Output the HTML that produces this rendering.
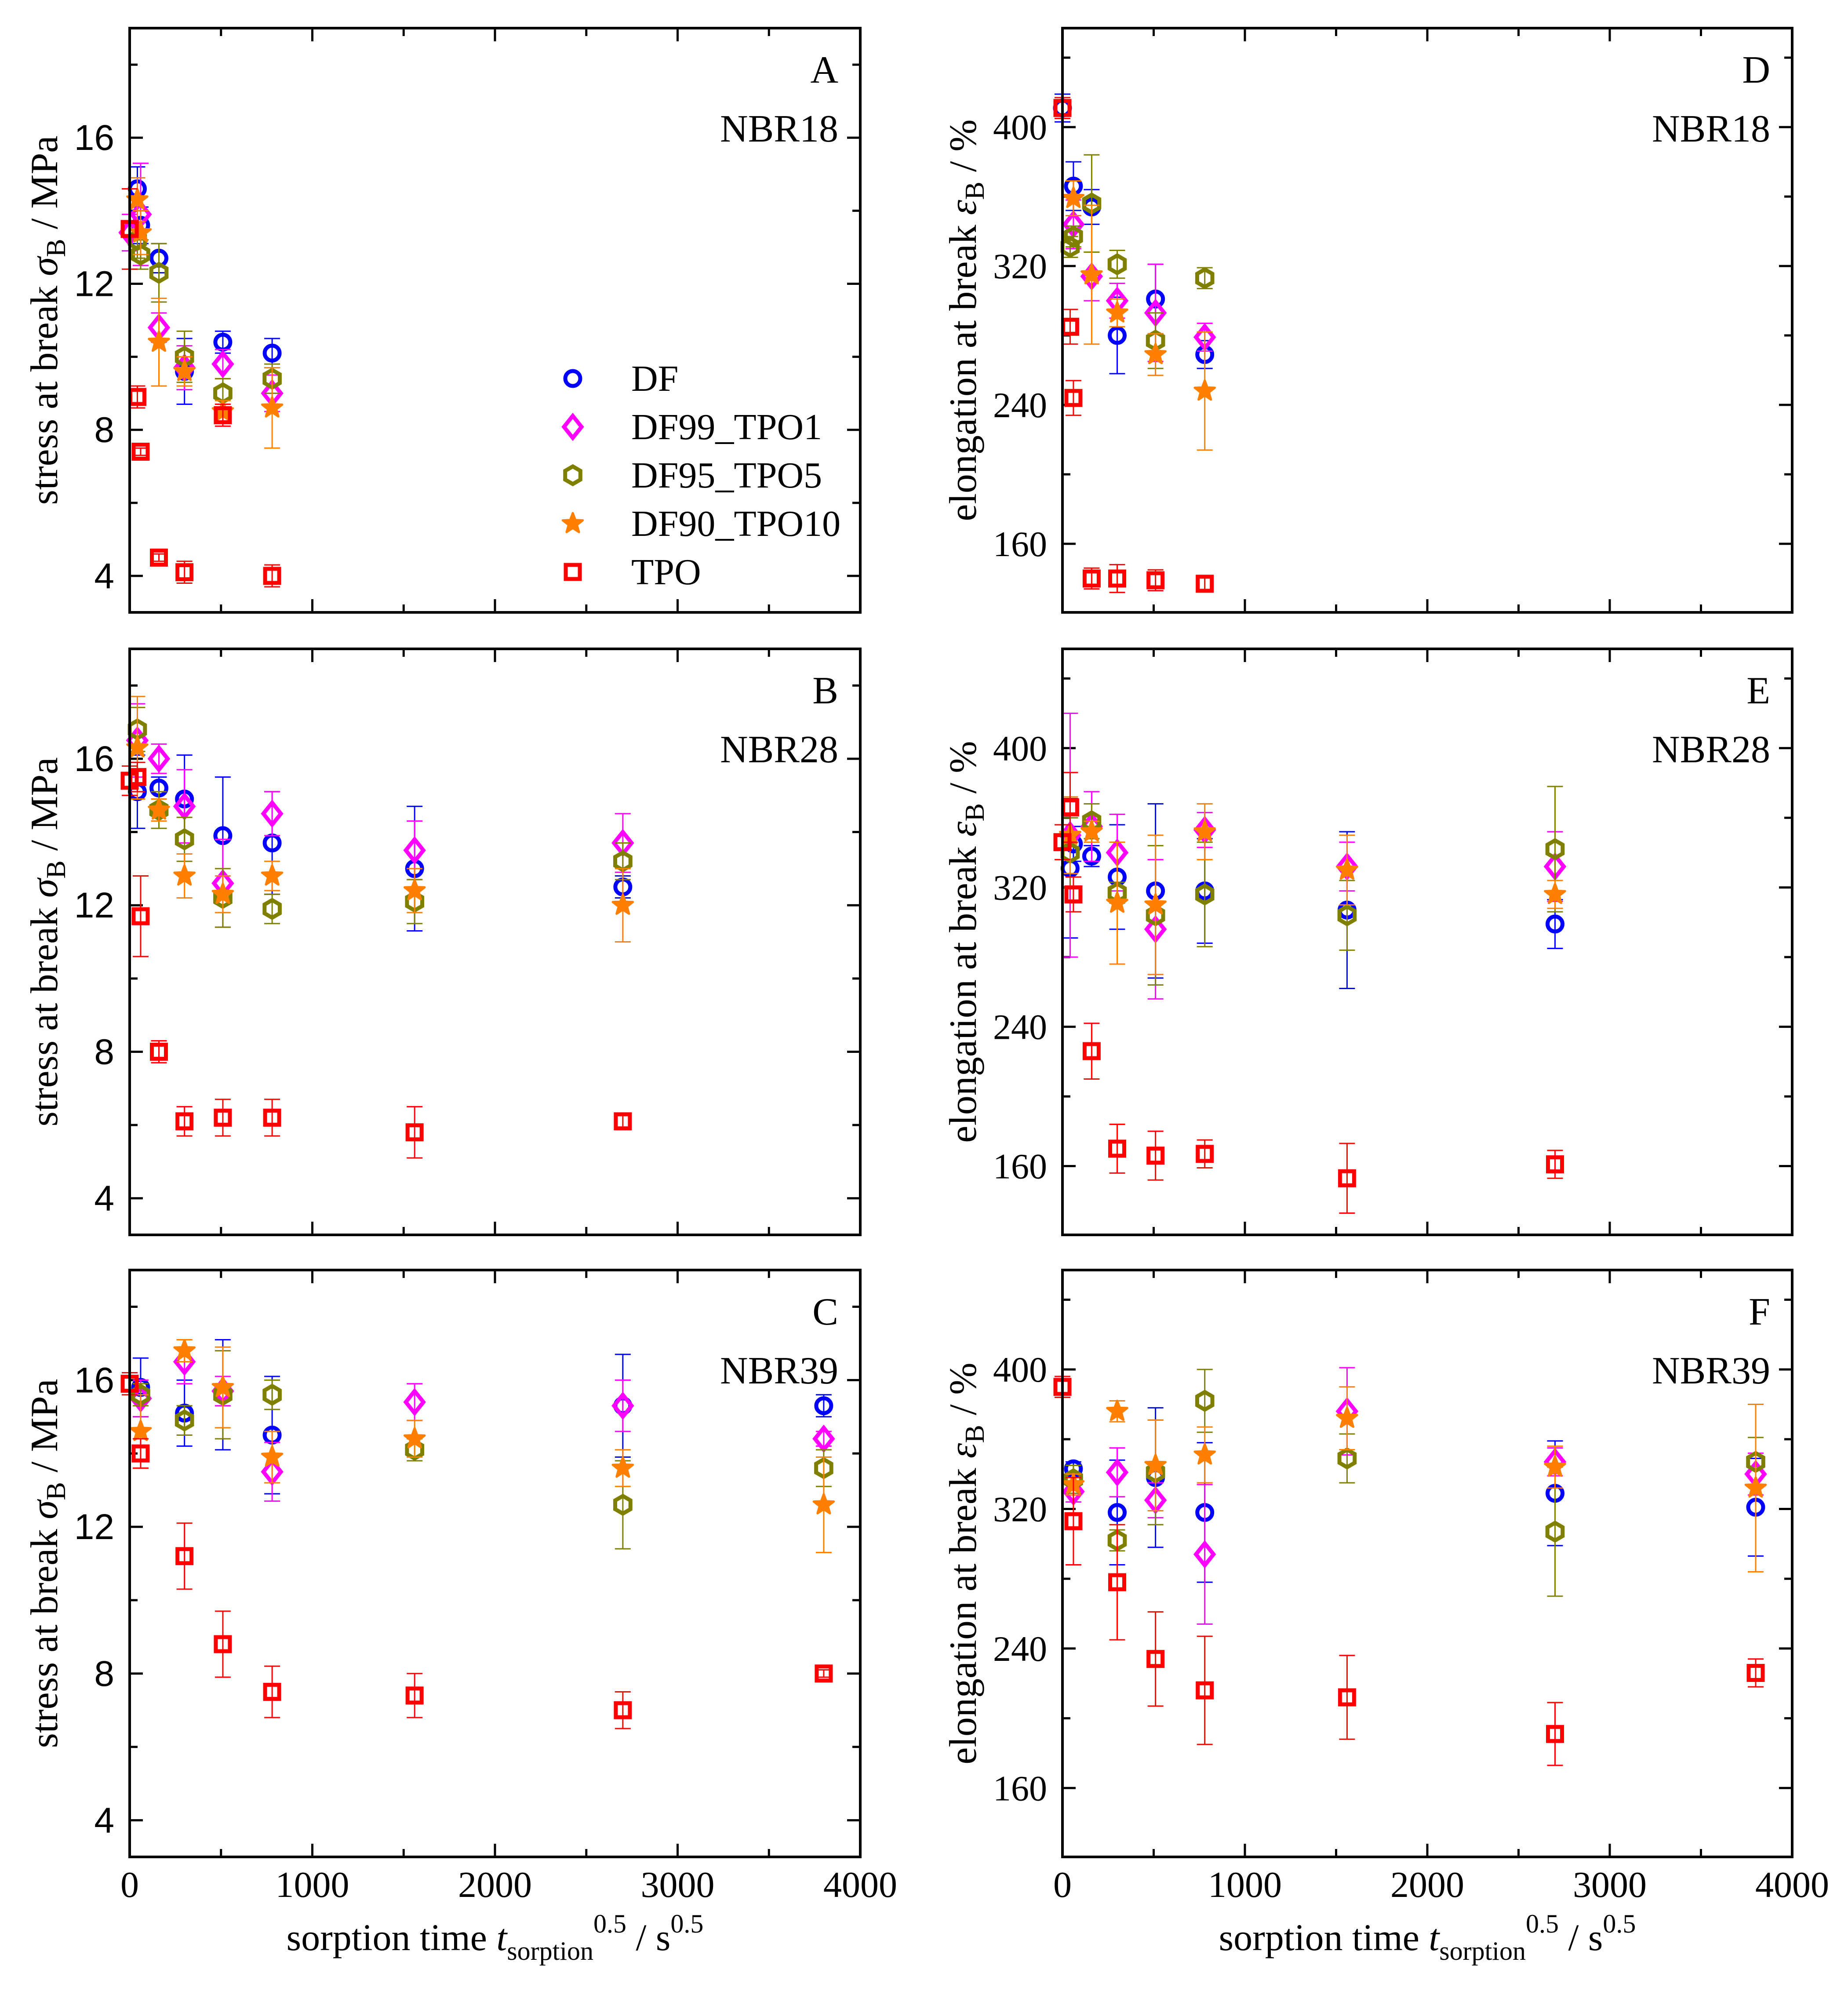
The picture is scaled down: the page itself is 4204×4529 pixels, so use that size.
<!DOCTYPE html>
<html><head><meta charset="utf-8"><style>
html,body{margin:0;padding:0;background:#fff;}
svg{display:block;}
</style></head><body>
<svg id="chart" xmlns="http://www.w3.org/2000/svg" width="4204" height="4529" viewBox="0 0 4204 4529"></svg>
<script>
// ---------- data ----------
const xTicks = [0, 1000, 2000, 3000, 4000];
const stressTicks = [4, 8, 12, 16];
const elongTicks = [160, 240, 320, 400];
const seriesNames = ["DF", "DF99_TPO1", "DF95_TPO5", "DF90_TPO10", "TPO"];

// Panel A (NBR18 stress)
const A_DF_x=[42,60,160,300,510,780];       const A_DF_y=[14.6,13.6,12.7,9.6,10.4,10.1];   const A_DF_e=[0.6,0.5,0.4,0.9,0.3,0.4];
const A_P1_x=[0,60,160,300,510,780];        const A_P1_y=[13.4,13.9,10.8,9.7,9.8,9.0];     const A_P1_e=[0.5,1.4,0.4,0.6,0.4,0.5];
const A_P5_x=[42,60,160,300,510,780];       const A_P5_y=[13.2,12.8,12.3,10.0,9.0,9.4];    const A_P5_e=[0.5,0.4,0.8,0.7,0.4,0.4];
const A_P10_x=[42,60,160,300,510,780];      const A_P10_y=[14.3,13.4,10.4,9.6,8.5,8.6];    const A_P10_e=[0.6,0.6,1.2,0.4,0.3,1.1];
const A_TPO_x=[0,42,60,160,300,510,780];    const A_TPO_y=[13.5,8.9,7.4,4.5,4.1,8.4,4.0];  const A_TPO_e=[1.1,0.3,0.1,0.1,0.3,0.3,0.3];
// Panel B (NBR28 stress)
const B_DF_x=[42,160,300,510,780,1560,2700];     const B_DF_y=[15.1,15.2,14.9,13.9,13.7,13.0,12.5]; const B_DF_e=[1.0,0.3,1.2,1.6,1.4,1.7,0.3];
const B_P1_x=[42,160,300,510,780,1560,2700];     const B_P1_y=[16.5,16.0,14.7,12.6,14.5,13.5,13.7]; const B_P1_e=[1.0,0.4,1.0,1.2,0.6,0.8,0.8];
const B_P5_x=[42,160,300,510,780,1560,2700];     const B_P5_y=[16.8,14.6,13.8,12.2,11.9,12.1,13.2]; const B_P5_e=[0.6,0.5,0.6,0.8,0.4,0.6,0.5];
const B_P10_x=[42,160,300,510,780,1560,2700];    const B_P10_y=[16.3,14.6,12.8,12.3,12.8,12.4,12.0]; const B_P10_e=[1.4,0.3,0.6,0.5,0.4,0.6,1.0];
const B_TPO_x=[0,42,60,160,300,510,780,1560,2700]; const B_TPO_y=[15.4,15.5,11.7,8.0,6.1,6.2,6.2,5.8,6.1]; const B_TPO_e=[0.4,0.4,1.1,0.3,0.4,0.5,0.5,0.7,0.2];
// Panel C (NBR39 stress)
const C_DF_x=[60,300,510,780,2700,3800];          const C_DF_y=[15.8,15.1,15.6,14.5,15.3,15.3];       const C_DF_e=[0.8,0.9,1.5,1.6,1.4,0.3];
const C_P1_x=[60,300,510,780,1560,2700,3800];     const C_P1_y=[15.5,16.5,15.7,13.5,15.4,15.3,14.4];  const C_P1_e=[0.5,0.6,0.4,0.8,0.5,0.7,0.2];
const C_P5_x=[60,300,510,780,1560,2700,3800];     const C_P5_y=[15.6,14.9,15.6,15.6,14.1,12.6,13.6];  const C_P5_e=[0.3,0.4,1.2,0.4,0.3,1.2,0.5];
const C_P10_x=[60,300,510,780,1560,2700,3800];    const C_P10_y=[14.6,16.8,15.8,13.9,14.4,13.6,12.6]; const C_P10_e=[1.0,0.3,1.1,0.7,0.5,0.5,1.3];
const C_TPO_x=[0,60,300,510,780,1560,2700,3800];  const C_TPO_y=[15.9,14.0,11.2,8.8,7.5,7.4,7.0,8.0];   const C_TPO_e=[0.3,0.4,0.9,0.9,0.7,0.6,0.5,0.1];
// Panel D (NBR18 elongation)
const D_DF_x=[0,60,160,300,510,780];          const D_DF_y=[411,366,354,280,301,269];     const D_DF_e=[8,14,10,22,20,8];
const D_P1_x=[60,160,300,510,780];            const D_P1_y=[344,314,300,293,279];         const D_P1_e=[14,14,10,28,8];
const D_P5_x=[42,60,160,300,510,780];         const D_P5_y=[331,337,356,321,277,313];     const D_P5_e=[6,6,28,8,16,6];
const D_P10_x=[60,160,300,510,780];           const D_P10_y=[359,315,293,269,248];        const D_P10_e=[10,40,8,12,34];
const D_TPO_x=[0,42,60,160,300,510,780];      const D_TPO_y=[411,285,244,140,140,139,137]; const D_TPO_e=[6,10,10,6,8,6,4];
// Panel E (NBR28 elongation)
const E_DF_x=[42,60,160,300,510,780,1560,2700];   const E_DF_y=[331,345,338,326,318,318,307,299]; const E_DF_e=[40,10,6,30,50,30,45,14];
const E_P1_x=[42,160,300,510,780,1560,2700];      const E_P1_y=[350,355,340,296,353,332,332];     const E_P1_e=[70,20,22,40,10,14,20];
const E_P5_x=[42,160,300,510,780,1560,2700];      const E_P5_y=[340,358,317,304,316,304,342];     const E_P5_e=[20,10,6,40,30,20,36];
const E_P10_x=[42,160,300,510,780,1560,2700];     const E_P10_y=[350,352,311,310,352,330,316];    const E_P10_e=[22,6,35,40,16,20,8];
const E_TPO_x=[0,42,60,160,300,510,780,1560,2700]; const E_TPO_y=[346,366,316,226,170,166,167,153,161]; const E_TPO_e=[10,20,10,16,14,14,8,20,8];
// Panel F (NBR39 elongation)
const F_DF_x=[60,300,510,780,2700,3800];          const F_DF_y=[343,318,338,318,329,321];          const F_DF_e=[4,30,40,40,30,28];
const F_P1_x=[60,300,510,780,1560,2700,3800];     const F_P1_y=[330,341,325,294,376,347,340];      const F_P1_e=[6,14,10,40,25,8,12];
const F_P5_x=[60,300,510,780,1560,2700,3800];     const F_P5_y=[337,302,341,382,349,307,347];      const F_P5_e=[8,6,30,18,14,37,14];
const F_P10_x=[60,300,510,780,1560,2700,3800];    const F_P10_y=[334,376,345,351,372,344,332];     const F_P10_e=[6,6,26,16,18,12,48];
const F_TPO_x=[0,60,300,510,780,1560,2700,3800];  const F_TPO_y=[390,313,278,234,216,212,191,226];  const F_TPO_e=[6,25,33,27,31,24,18,8];

// ---------- layout ----------
const NS = "http://www.w3.org/2000/svg";
const svg = document.getElementById('chart');
const colors = ["#0000ff", "#ff00ff", "#808000", "#ff8000", "#ff0000"];
const markerKeys = ["circle", "diamond", "hexagon", "star", "square"];
const rows = [[64,1393],[1476,2809],[2889,4224]];
const cols = [[295,1957],[2417,4077]];

function el(tag, attrs, parent) {
  const e = document.createElementNS(NS, tag);
  for (const k in attrs) e.setAttribute(k, attrs[k]);
  (parent || svg).appendChild(e);
  return e;
}

function marker(g, kind, cx, cy, color) {
  let m;
  if (kind === "circle") m = el('circle', {cx, cy, r: 17, fill: 'none', stroke: color, 'stroke-width': 9}, g);
  else if (kind === "diamond") m = el('polygon', {points: `${cx},${cy-25} ${cx+20},${cy} ${cx},${cy+25} ${cx-20},${cy}`, fill: 'none', stroke: color, 'stroke-width': 9}, g);
  else if (kind === "hexagon") {
    let p = [];
    for (let i = 0; i < 6; i++) { const a = Math.PI/2 + i*Math.PI/3; p.push((cx + 20*Math.cos(a)).toFixed(1) + ',' + (cy - 20*Math.sin(a)).toFixed(1)); }
    m = el('polygon', {points: p.join(' '), fill: 'none', stroke: color, 'stroke-width': 9}, g);
  } else if (kind === "star") {
    let p = [];
    for (let i = 0; i < 10; i++) { const a = Math.PI/2 + i*Math.PI/5; const r = i % 2 ? 10 : 24; p.push((cx + r*Math.cos(a)).toFixed(1) + ',' + (cy - r*Math.sin(a)).toFixed(1)); }
    m = el('polygon', {points: p.join(' '), fill: color, stroke: color, 'stroke-width': 5, 'stroke-linejoin': 'round'}, g);
  } else m = el('rect', {x: cx-16, y: cy-16, width: 32, height: 32, fill: 'none', stroke: color, 'stroke-width': 9}, g);
  return m;
}

const panels = [
  {id:'A', col:0, row:0, kind:'stress', name:'NBR18', data:[[A_DF_x,A_DF_y,A_DF_e],[A_P1_x,A_P1_y,A_P1_e],[A_P5_x,A_P5_y,A_P5_e],[A_P10_x,A_P10_y,A_P10_e],[A_TPO_x,A_TPO_y,A_TPO_e]]},
  {id:'B', col:0, row:1, kind:'stress', name:'NBR28', data:[[B_DF_x,B_DF_y,B_DF_e],[B_P1_x,B_P1_y,B_P1_e],[B_P5_x,B_P5_y,B_P5_e],[B_P10_x,B_P10_y,B_P10_e],[B_TPO_x,B_TPO_y,B_TPO_e]]},
  {id:'C', col:0, row:2, kind:'stress', name:'NBR39', data:[[C_DF_x,C_DF_y,C_DF_e],[C_P1_x,C_P1_y,C_P1_e],[C_P5_x,C_P5_y,C_P5_e],[C_P10_x,C_P10_y,C_P10_e],[C_TPO_x,C_TPO_y,C_TPO_e]]},
  {id:'D', col:1, row:0, kind:'elong', name:'NBR18', data:[[D_DF_x,D_DF_y,D_DF_e],[D_P1_x,D_P1_y,D_P1_e],[D_P5_x,D_P5_y,D_P5_e],[D_P10_x,D_P10_y,D_P10_e],[D_TPO_x,D_TPO_y,D_TPO_e]]},
  {id:'E', col:1, row:1, kind:'elong', name:'NBR28', data:[[E_DF_x,E_DF_y,E_DF_e],[E_P1_x,E_P1_y,E_P1_e],[E_P5_x,E_P5_y,E_P5_e],[E_P10_x,E_P10_y,E_P10_e],[E_TPO_x,E_TPO_y,E_TPO_e]]},
  {id:'F', col:1, row:2, kind:'elong', name:'NBR39', data:[[F_DF_x,F_DF_y,F_DF_e],[F_P1_x,F_P1_y,F_P1_e],[F_P5_x,F_P5_y,F_P5_e],[F_P10_x,F_P10_y,F_P10_e],[F_TPO_x,F_TPO_y,F_TPO_e]]}
];

const serif = '"Liberation Serif", serif';
const sans = '"Liberation Sans", sans-serif';

panels.forEach(p => {
  const [x0, x1] = cols[p.col], [y0, y1] = rows[p.row];
  const ymin = p.kind === 'stress' ? 3 : 120.5, ymax = p.kind === 'stress' ? 19 : 457;
  const ystep = p.kind === 'stress' ? 2 : 40;
  const yTicks = p.kind === 'stress' ? stressTicks : elongTicks;
  const sx = v => x0 + (v - 0) / 4000 * (x1 - x0);
  const sy = v => y1 - (v - ymin) / (ymax - ymin) * (y1 - y0);
  const g = el('g', {});
  
  

  const tg = el('g', {stroke: '#000', 'stroke-width': 5}, g);
  
  
  for (let v = 500; v < 4000; v += 500) {
    const L = v % 1000 === 0 ? 30 : 18, X = sx(v);
    el('line', {x1: X, y1: y1, x2: X, y2: y1 - L}, tg);
    el('line', {x1: X, y1: y0, x2: X, y2: y0 + L}, tg);
  }
  for (let v = yTicks[0] - ystep; v < ymax; v += ystep) {
    if (v <= ymin) continue;
    const major = yTicks.indexOf(v) >= 0;
    const L = major ? 30 : 18, Y = sy(v);
    el('line', {x1: x0, y1: Y, x2: x0 + L, y2: Y}, tg);
    el('line', {x1: x1, y1: Y, x2: x1 - L, y2: Y}, tg);
  }
  yTicks.forEach(v => {
    const t = el('text', {x: x0 - 35, y: sy(v) + 28, 'text-anchor': 'end', 'font-size': 82, 'font-family': p.kind === 'stress' ? sans : serif}, g);
    
    
    t.textContent = v;
  });
  if (p.row === 2) {
    xTicks.forEach(v => {
      const t = el('text', {x: sx(v), y: 4315, 'text-anchor': 'middle', 'font-size': 84, 'font-family': serif}, g);
      
      
      t.textContent = v;
    });
    const xt = el('text', {x: (x0 + x1) / 2, y: 4436, 'text-anchor': 'middle', 'font-size': 86, 'font-family': serif}, g);
    
    
    xt.innerHTML = 'sorption time <tspan font-style="italic">t</tspan><tspan font-size="60" dy="22">sorption</tspan><tspan font-size="60" dy="-62">0.5</tspan><tspan dy="40"> / s</tspan><tspan font-size="60" dy="-40">0.5</tspan>';
  }
  const cx = p.col === 0 ? 130 : 2220, cy = (y0 + y1) / 2;
  const yt = el('text', {x: 0, y: 0, 'text-anchor': 'middle', 'font-size': 88, 'font-family': serif, transform: `translate(${cx},${cy}) rotate(-90)`}, g);
  
  
  yt.innerHTML = p.kind === 'stress'
    ? 'stress at break <tspan font-style="italic">σ</tspan><tspan font-size="62" dy="18">B</tspan><tspan dy="-18"> / MPa</tspan>'
    : 'elongation at break <tspan font-style="italic">ε</tspan><tspan font-size="62" dy="18">B</tspan><tspan dy="-18"> / %</tspan>';

  const lt = el('text', {x: x1 - 50, y: y0 + 124, 'text-anchor': 'end', 'font-size': 88, 'font-family': serif}, g);
  
  
  lt.textContent = p.id;
  const nt = el('text', {x: x1 - 50, y: y0 + 258, 'text-anchor': 'end', 'font-size': 88, 'font-family': serif}, g);
  
  
  nt.textContent = p.name;

  p.data.forEach((s, si) => {
    const [xs, ys, es] = s;
    const sg = el('g', {}, g);
    
    
    xs.forEach((xv, i) => {
      const X = sx(xv), Y = sy(ys[i]), Yt = sy(ys[i] + es[i]), Yb = sy(ys[i] - es[i]);
      const eb = el('path', {d: `M${X},${Yt}V${Yb}M${X-18},${Yt}h36M${X-18},${Yb}h36`, stroke: colors[si], 'stroke-width': 3, fill: 'none'}, sg);
      
      
      const m = marker(sg, markerKeys[si], X, Y, colors[si]);
      
      
    });
  });

  const fr = el('rect', {x: x0, y: y0, width: x1 - x0, height: y1 - y0, fill: 'none', stroke: '#000', 'stroke-width': 6}, g);
  
  
});

const lg = el('g', {});


seriesNames.forEach((n, i) => {
  const Y = 861 + i * 110;
  const eg = el('g', {}, lg);
  
  
  marker(eg, markerKeys[i], 1303, Y, colors[i]);
  const t = el('text', {x: 1436, y: Y + 28, 'font-size': 84, 'font-family': serif}, eg);
  t.textContent = n;
});
</script>
</body></html>
